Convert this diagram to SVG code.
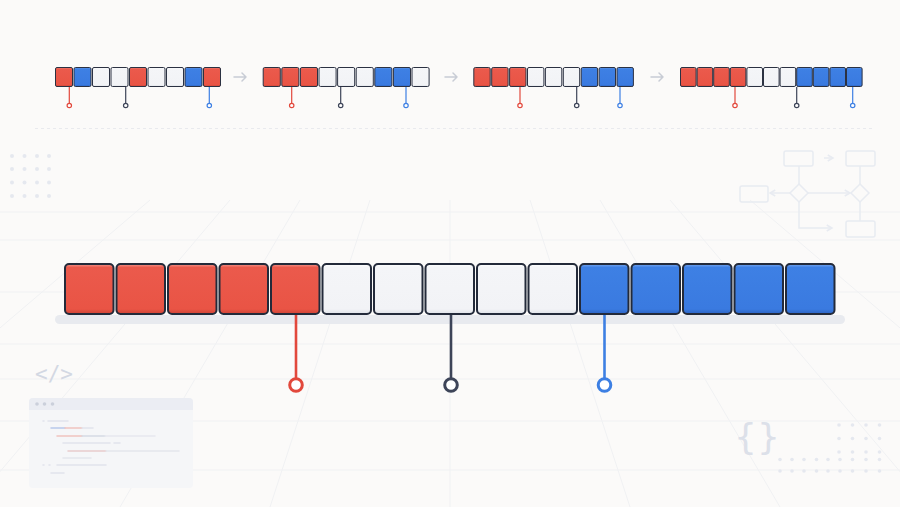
<svg xmlns="http://www.w3.org/2000/svg" width="900" height="507" viewBox="0 0 900 507">
<style>
.grid{stroke:#f0f1f3;stroke-width:1;fill:none}
.deco{stroke:#e8ebf1;stroke-width:1.5;fill:none}
.dot{fill:#e5e8ef}
.c{stroke:#232a3a;stroke-width:2}
.s{stroke:#2b3142;stroke-width:1}
.r{fill:url(#gr)}
.w{fill:url(#gw)}
.b{fill:url(#gb)}
.arr{stroke:#c8ccd5;stroke-width:1.5;fill:none;stroke-linecap:round;stroke-linejoin:round}
.pr{stroke:#e2483c}
.pd{stroke:#3d4458}
.pb{stroke:#3d7fe3}
</style>
<defs>
<linearGradient id="gr" x1="0" y1="0" x2="0" y2="1">
<stop offset="0" stop-color="#f3988f"/><stop offset="0.07" stop-color="#eb5a4c"/><stop offset="0.9" stop-color="#e95445"/><stop offset="1" stop-color="#cf4436"/>
</linearGradient>
<linearGradient id="gw" x1="0" y1="0" x2="0" y2="1">
<stop offset="0" stop-color="#ffffff"/><stop offset="0.07" stop-color="#f4f5f8"/><stop offset="0.9" stop-color="#f2f3f6"/><stop offset="1" stop-color="#dfe2e8"/>
</linearGradient>
<linearGradient id="gb" x1="0" y1="0" x2="0" y2="1">
<stop offset="0" stop-color="#7aa8ef"/><stop offset="0.07" stop-color="#3e80e4"/><stop offset="0.9" stop-color="#3a7ae0"/><stop offset="1" stop-color="#2c64c4"/>
</linearGradient>
<marker id="ah" viewBox="0 0 10 10" refX="8" refY="5" markerWidth="5" markerHeight="5" orient="auto"><path d="M1,1 L8,5 L1,9" fill="none" stroke="#e8ebf1" stroke-width="2"/></marker>
</defs>
<rect width="900" height="507" fill="#fbfaf9"/>
<g id="background-grid">
<path class="grid" d="M0,212 H900 M0,240 H900 M0,292 H900 M0,344 H900 M0,379 H900 M0,421 H900 M0,470 H900"/>
<path class="grid" d="M150,200 L-210,507 M230,200 L-30,507 M300,200 L120,507 M370,200 L270,507 M450,200 L450,507 M530,200 L630,507 M600,200 L780,507 M670,200 L930,507 M750,200 L1110,507"/>
<path d="M35,128.5 H875" stroke="#e9eaee" stroke-width="1" stroke-dasharray="3 3"/>
</g>
<g id="deco-dots-tl">
<circle class="dot" cx="12" cy="156" r="2"/><circle class="dot" cx="24.5" cy="156" r="2"/><circle class="dot" cx="37" cy="156" r="2"/><circle class="dot" cx="49" cy="156" r="2"/>
<circle class="dot" cx="12" cy="169" r="2"/><circle class="dot" cx="24.5" cy="169" r="2"/><circle class="dot" cx="37" cy="169" r="2"/><circle class="dot" cx="49" cy="169" r="2"/>
<circle class="dot" cx="12" cy="182.5" r="2"/><circle class="dot" cx="24.5" cy="182.5" r="2"/><circle class="dot" cx="37" cy="182.5" r="2"/><circle class="dot" cx="49" cy="182.5" r="2"/>
<circle class="dot" cx="12" cy="196" r="2"/><circle class="dot" cx="24.5" cy="196" r="2"/><circle class="dot" cx="37" cy="196" r="2"/><circle class="dot" cx="49" cy="196" r="2"/>
</g>
<g id="deco-flowchart">
<rect class="deco" x="784" y="151" width="29" height="15" rx="2"/>
<rect class="deco" x="846" y="151" width="29" height="15" rx="2"/>
<rect class="deco" x="740" y="186" width="28" height="16" rx="2"/>
<rect class="deco" x="846" y="221" width="29" height="16" rx="2"/>
<path class="deco" d="M799,184 L808,193 L799,202 L790,193 Z"/>
<path class="deco" d="M860,184 L869,193 L860,202 L851,193 Z"/>
<path class="deco" d="M799,166 V184 M860,166 V184 M860,202 V221"/>
<path class="deco" d="M824,158 H833" marker-end="url(#ah)"/>
<path class="deco" d="M790,193 H770" marker-end="url(#ah)"/>
<path class="deco" d="M808,193 H850" marker-end="url(#ah)"/>
<path class="deco" d="M799,202 V228 H832" marker-end="url(#ah)"/>
</g>
<g id="deco-code">
<text x="35" y="381" font-family="DejaVu Sans Mono, monospace" font-size="21" fill="#d3d8e3">&lt;/&gt;</text>
<rect x="29" y="398" width="164" height="90" rx="4" fill="#f5f6f8"/>
<path d="M29,410 V402 a4,4 0 0 1 4,-4 H189 a4,4 0 0 1 4,4 V410 Z" fill="#ebedf3"/>
<circle cx="37" cy="404" r="1.8" fill="#cbd0db"/><circle cx="44.5" cy="404" r="1.8" fill="#cbd0db"/><circle cx="52.5" cy="404" r="1.8" fill="#cbd0db"/>
<g stroke-width="1.5" stroke-linecap="round">
<path d="M43,421 h1 M48,421 H68" stroke="#e1e4eb"/>
<path d="M51,428 H65" stroke="#b8c9ea"/><path d="M65,428 H82" stroke="#f0c4bf"/><path d="M82,428 H93" stroke="#e1e4eb"/>
<path d="M57,436 H82" stroke="#f0c4bf"/><path d="M82,436 H105" stroke="#d5dae4"/><path d="M105,436 H155" stroke="#e6e8ee"/>
<path d="M63,443 H110 M114,443 H120" stroke="#e1e4eb"/>
<path d="M68,451 H106" stroke="#e8cbcb"/><path d="M106,451 H179" stroke="#e3e6ec"/>
<path d="M63,458 H91" stroke="#e3e6ec"/>
<path d="M43,465 h1 M49,465 h1 M57,465 H106" stroke="#e1e4eb"/>
<path d="M51,473 H64" stroke="#e1e4eb"/>
</g>
</g>
<g id="deco-braces">
<text x="734" y="449" font-family="DejaVu Sans, sans-serif" font-size="36" fill="#dce0e9">{}</text>
<g class="dot">
<circle cx="839" cy="425" r="1.8"/><circle cx="852.5" cy="425" r="1.8"/><circle cx="866" cy="425" r="1.8"/><circle cx="879.5" cy="425" r="1.8"/>
<circle cx="839" cy="438.5" r="1.8"/><circle cx="852.5" cy="438.5" r="1.8"/><circle cx="866" cy="438.5" r="1.8"/><circle cx="879.5" cy="438.5" r="1.8"/>
<circle cx="839" cy="452" r="1.8"/><circle cx="852.5" cy="452" r="1.8"/><circle cx="866" cy="452" r="1.8"/><circle cx="879.5" cy="452" r="1.8"/>
<circle cx="780" cy="459.5" r="1.8"/><circle cx="792" cy="459.5" r="1.8"/><circle cx="804" cy="459.5" r="1.8"/><circle cx="816.5" cy="459.5" r="1.8"/><circle cx="828" cy="459.5" r="1.8"/><circle cx="840" cy="459.5" r="1.8"/><circle cx="852.5" cy="459.5" r="1.8"/><circle cx="866" cy="459.5" r="1.8"/><circle cx="879.5" cy="459.5" r="1.8"/>
<circle cx="780" cy="471" r="1.8"/><circle cx="792" cy="471" r="1.8"/><circle cx="804" cy="471" r="1.8"/><circle cx="816.5" cy="471" r="1.8"/><circle cx="828" cy="471" r="1.8"/><circle cx="840" cy="471" r="1.8"/><circle cx="852.5" cy="471" r="1.8"/><circle cx="866" cy="471" r="1.8"/><circle cx="879.5" cy="471" r="1.8"/>
</g>
</g>

<g id="connectors">
<path class="arr" d="M234,77 H246 M242,73 L246,77 L242,81"/>
<path class="arr" d="M445,77 H457 M453,73 L457,77 L453,81"/>
<path class="arr" d="M651,77 H663 M659,73 L663,77 L659,81"/>
<g stroke-width="1.2" fill="#fff">
<path class="pr" d="M69.3,87 V103.5"/><circle class="pr" cx="69.3" cy="105.5" r="2.2"/>
<path class="pd" d="M125.7,87 V103.5"/><circle class="pd" cx="125.7" cy="105.5" r="2.2"/>
<path class="pb" d="M209.3,87 V103.5"/><circle class="pb" cx="209.3" cy="105.5" r="2.2"/>
<path class="pr" d="M291.7,87 V103.5"/><circle class="pr" cx="291.7" cy="105.5" r="2.2"/>
<path class="pd" d="M340.7,87 V103.5"/><circle class="pd" cx="340.7" cy="105.5" r="2.2"/>
<path class="pb" d="M406,87 V103.5"/><circle class="pb" cx="406" cy="105.5" r="2.2"/>
<path class="pr" d="M520,87 V103.5"/><circle class="pr" cx="520" cy="105.5" r="2.2"/>
<path class="pd" d="M576.7,87 V103.5"/><circle class="pd" cx="576.7" cy="105.5" r="2.2"/>
<path class="pb" d="M620,87 V103.5"/><circle class="pb" cx="620" cy="105.5" r="2.2"/>
<path class="pr" d="M735,87 V103.5"/><circle class="pr" cx="735" cy="105.5" r="2.2"/>
<path class="pd" d="M796.7,87 V103.5"/><circle class="pd" cx="796.7" cy="105.5" r="2.2"/>
<path class="pb" d="M852.7,87 V103.5"/><circle class="pb" cx="852.7" cy="105.5" r="2.2"/>
</g>
</g>

<g id="array-1">
<rect class="s r" x="55.5" y="67.5" width="17" height="19" rx="1.5"/>
<rect class="s b" x="74" y="67.5" width="17" height="19" rx="1.5"/>
<rect class="s w" x="92.5" y="67.5" width="17" height="19" rx="1.5"/>
<rect class="s w" x="111" y="67.5" width="17" height="19" rx="1.5"/>
<rect class="s r" x="129.5" y="67.5" width="17" height="19" rx="1.5"/>
<rect class="s w" x="148" y="67.5" width="17" height="19" rx="1.5"/>
<rect class="s w" x="166.5" y="67.5" width="17" height="19" rx="1.5"/>
<rect class="s b" x="185" y="67.5" width="17" height="19" rx="1.5"/>
<rect class="s r" x="203.5" y="67.5" width="17" height="19" rx="1.5"/>
</g>
<g id="array-2">
<rect class="s r" x="263.2" y="67.5" width="17.1" height="19" rx="1.5"/>
<rect class="s r" x="281.8" y="67.5" width="17.1" height="19" rx="1.5"/>
<rect class="s r" x="300.4" y="67.5" width="17.1" height="19" rx="1.5"/>
<rect class="s w" x="319" y="67.5" width="17.1" height="19" rx="1.5"/>
<rect class="s w" x="337.6" y="67.5" width="17.1" height="19" rx="1.5"/>
<rect class="s w" x="356.2" y="67.5" width="17.1" height="19" rx="1.5"/>
<rect class="s b" x="374.8" y="67.5" width="17.1" height="19" rx="1.5"/>
<rect class="s b" x="393.4" y="67.5" width="17.1" height="19" rx="1.5"/>
<rect class="s w" x="412" y="67.5" width="17.1" height="19" rx="1.5"/>
</g>
<g id="array-3">
<rect class="s r" x="473.8" y="67.5" width="16.4" height="19" rx="1.5"/>
<rect class="s r" x="491.7" y="67.5" width="16.4" height="19" rx="1.5"/>
<rect class="s r" x="509.6" y="67.5" width="16.4" height="19" rx="1.5"/>
<rect class="s w" x="527.5" y="67.5" width="16.4" height="19" rx="1.5"/>
<rect class="s w" x="545.4" y="67.5" width="16.4" height="19" rx="1.5"/>
<rect class="s w" x="563.3" y="67.5" width="16.4" height="19" rx="1.5"/>
<rect class="s b" x="581.2" y="67.5" width="16.4" height="19" rx="1.5"/>
<rect class="s b" x="599.1" y="67.5" width="16.4" height="19" rx="1.5"/>
<rect class="s b" x="617" y="67.5" width="16.4" height="19" rx="1.5"/>
</g>
<g id="array-4">
<rect class="s r" x="680.5" y="67.5" width="15.6" height="19" rx="1.5"/>
<rect class="s r" x="697.1" y="67.5" width="15.6" height="19" rx="1.5"/>
<rect class="s r" x="713.7" y="67.5" width="15.6" height="19" rx="1.5"/>
<rect class="s r" x="730.3" y="67.5" width="15.6" height="19" rx="1.5"/>
<rect class="s w" x="746.9" y="67.5" width="15.6" height="19" rx="1.5"/>
<rect class="s w" x="763.5" y="67.5" width="15.6" height="19" rx="1.5"/>
<rect class="s w" x="780.1" y="67.5" width="15.6" height="19" rx="1.5"/>
<rect class="s b" x="796.7" y="67.5" width="15.6" height="19" rx="1.5"/>
<rect class="s b" x="813.3" y="67.5" width="15.6" height="19" rx="1.5"/>
<rect class="s b" x="829.9" y="67.5" width="15.6" height="19" rx="1.5"/>
<rect class="s b" x="846.5" y="67.5" width="15.6" height="19" rx="1.5"/>
</g>

<g id="main-array">
<rect x="55" y="315" width="790" height="9" rx="4.5" fill="#e8eaef"/>
<g id="cell-0"><rect class="c r" x="65" y="264" width="48.5" height="50" rx="4"/></g>
<g id="cell-1"><rect class="c r" x="116.5" y="264" width="48.5" height="50" rx="4"/></g>
<g id="cell-2"><rect class="c r" x="168" y="264" width="48.5" height="50" rx="4"/></g>
<g id="cell-3"><rect class="c r" x="219.5" y="264" width="48.5" height="50" rx="4"/></g>
<g id="cell-4"><rect class="c r" x="271" y="264" width="48.5" height="50" rx="4"/></g>
<g id="cell-5"><rect class="c w" x="322.5" y="264" width="48.5" height="50" rx="4"/></g>
<g id="cell-6"><rect class="c w" x="374" y="264" width="48.5" height="50" rx="4"/></g>
<g id="cell-7"><rect class="c w" x="425.5" y="264" width="48.5" height="50" rx="4"/></g>
<g id="cell-8"><rect class="c w" x="477" y="264" width="48.5" height="50" rx="4"/></g>
<g id="cell-9"><rect class="c w" x="528.5" y="264" width="48.5" height="50" rx="4"/></g>
<g id="cell-10"><rect class="c b" x="580" y="264" width="48.5" height="50" rx="4"/></g>
<g id="cell-11"><rect class="c b" x="631.5" y="264" width="48.5" height="50" rx="4"/></g>
<g id="cell-12"><rect class="c b" x="683" y="264" width="48.5" height="50" rx="4"/></g>
<g id="cell-13"><rect class="c b" x="734.5" y="264" width="48.5" height="50" rx="4"/></g>
<g id="cell-14"><rect class="c b" x="786" y="264" width="48.5" height="50" rx="4"/></g>
</g>

<g id="pointers" fill="#fff" stroke-width="2.6">
<g id="pointer-low"><path class="pr" d="M296,315 V378.5"/><circle class="pr" cx="296" cy="385" r="6.3" stroke-width="3"/></g>
<g id="pointer-mid"><path class="pd" d="M451,315 V378.5"/><circle class="pd" cx="451" cy="385" r="6.3" stroke-width="3"/></g>
<g id="pointer-high"><path class="pb" d="M604.5,315 V378.5"/><circle class="pb" cx="604.5" cy="385" r="6.3" stroke-width="3"/></g>
</g>
</svg>
